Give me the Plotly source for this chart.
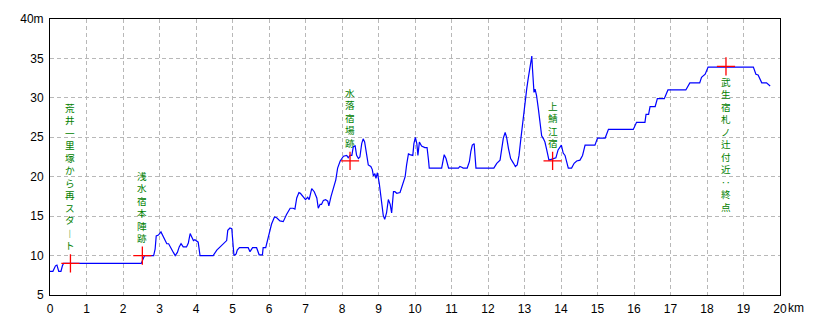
import plotly.graph_objects as go

# Elevation profile (distance in km, elevation in m)
dist_km = [0.00, 0.08, 0.15, 0.19, 0.24, 0.30, 0.34, 0.37, 2.50, 2.55, 2.59, 2.84, 2.88, 2.91, 2.97,
           3.04, 3.10, 3.15, 3.20, 3.25, 3.29, 3.33, 3.38, 3.43, 3.49, 3.54, 3.59, 3.65, 3.74, 3.79,
           3.84, 3.88, 3.93, 3.97, 4.02, 4.06, 4.11, 4.47, 4.57, 4.66, 4.73, 4.79, 4.84, 4.87, 4.93,
           4.98, 5.00, 5.04, 5.10, 5.13, 5.19, 5.43, 5.48, 5.55, 5.66, 5.73, 5.82, 5.84, 5.91, 5.98,
           6.03, 6.07, 6.15, 6.21, 6.30, 6.39, 6.48, 6.58, 6.66, 6.71, 6.76, 6.82, 6.86, 6.94, 7.00,
           7.06, 7.10, 7.17, 7.24, 7.31, 7.35, 7.40, 7.44, 7.49, 7.55, 7.61, 7.64, 7.70, 7.76, 7.83,
           7.88, 7.95, 8.04, 8.13, 8.17, 8.22, 8.27, 8.31, 8.36, 8.40, 8.45, 8.49, 8.54, 8.58, 8.62,
           8.66, 8.72, 8.79, 8.83, 8.86, 8.90, 8.93, 8.97, 9.02, 9.06, 9.10, 9.13, 9.17, 9.22, 9.27,
           9.32, 9.36, 9.41, 9.45, 9.50, 9.59, 9.66, 9.73, 9.77, 9.82, 9.86, 9.94, 9.97, 10.01, 10.05,
           10.08, 10.12, 10.18, 10.27, 10.33, 10.37, 10.39, 10.73, 10.76, 10.80, 10.85, 10.89, 10.92,
           11.19, 11.23, 11.28, 11.32, 11.43, 11.49, 11.53, 11.57, 11.62, 11.64, 11.67, 12.16, 12.24,
           12.33, 12.37, 12.42, 12.47, 12.51, 12.56, 12.62, 12.70, 12.75, 12.80, 12.85, 12.90, 12.93,
           12.97, 13.01, 13.06, 13.10, 13.15, 13.20, 13.22, 13.26, 13.29, 13.33, 13.38, 13.42, 13.47,
           13.52, 13.56, 13.60, 13.65, 13.67, 13.86, 13.92, 14.01, 14.06, 14.11, 14.16, 14.20, 14.29,
           14.36, 14.43, 14.52, 14.59, 14.66, 14.93, 15.00, 15.21, 15.30, 15.98, 16.07, 16.30, 16.33,
           16.40, 16.44, 16.58, 16.64, 16.83, 16.93, 17.42, 17.53, 17.80, 17.85, 17.95, 18.03, 19.27,
           19.34, 19.40, 19.45, 19.50, 19.63, 19.73]
elev_m = [8.0, 8.0, 8.7, 8.8, 8.0, 8.0, 8.7, 9.0, 9.0, 9.6, 10.0, 10.0, 10.8, 12.5, 12.6,
          13.0, 12.5, 11.9, 11.5, 11.5, 11.1, 10.8, 10.4, 10.0, 10.4, 11.1, 11.5, 11.1, 11.1, 11.6,
          12.8, 12.4, 11.9, 12.0, 11.8, 11.7, 10.0, 10.0, 10.7, 11.1, 11.5, 11.8, 11.9, 13.2, 13.5,
          13.4, 11.9, 10.0, 10.2, 10.7, 11.0, 11.0, 10.5, 11.0, 11.0, 10.1, 10.1, 11.0, 11.0, 12.5,
          13.5, 14.0, 14.9, 14.8, 14.4, 14.3, 15.2, 16.0, 16.0, 15.9, 17.3, 18.0, 17.9, 17.4, 17.1,
          17.4, 17.1, 18.5, 18.1, 17.3, 16.0, 16.5, 16.5, 17.0, 17.1, 16.9, 16.3, 17.5, 18.5, 19.6,
          21.1, 22.0, 22.6, 22.7, 22.4, 22.7, 22.7, 23.8, 23.9, 22.7, 22.3, 22.5, 24.2, 24.8, 24.4,
          23.2, 21.5, 21.3, 20.9, 20.1, 20.4, 19.8, 20.5, 19.2, 17.9, 16.5, 15.1, 14.6, 15.4, 17.1,
          16.5, 15.4, 18.1, 18.1, 17.9, 18.0, 19.0, 20.0, 21.5, 22.9, 22.8, 22.7, 24.2, 25.0, 24.2,
          22.7, 24.4, 23.9, 23.7, 23.7, 22.1, 21.1, 21.1, 21.9, 22.8, 22.3, 21.5, 21.1,
          21.1, 21.3, 21.2, 21.1, 21.1, 21.9, 23.2, 24.0, 24.2, 22.7, 21.1, 21.1, 21.7,
          22.1, 23.6, 24.9, 25.6, 25.0, 23.6, 22.3, 21.7, 21.3, 21.5, 22.7, 24.8, 26.1,
          27.8, 29.4, 31.1, 32.4, 34.0, 35.3, 33.6, 30.7, 31.1, 30.3, 28.6, 26.9, 25.2,
          24.8, 24.4, 23.6, 22.7, 22.1, 22.4, 23.4, 24.0, 23.0, 22.7, 21.9, 21.1, 21.1,
          21.7, 22.0, 22.1, 22.7, 24.0, 24.0, 24.9, 24.9, 26.0, 26.0, 26.9, 26.9, 27.9,
          27.9, 28.9, 28.9, 29.9, 29.9, 31.0, 31.0, 31.9, 31.9, 32.6, 33.0, 33.9, 33.9,
          33.0, 32.9, 32.4, 31.9, 31.9, 31.5]

# Landmarks
marker_km = [0.56, 2.53, 8.22, 13.77, 18.52]
marker_m = [9.0, 10.0, 22.0, 22.0, 34.0]
marker_labels = ["荒井一里塚から再スタ︱ト", "浅水宿本陣跡", "水落宿場跡", "上鯖江宿", "武生宿札ノ辻付近‥終点"]
label_side = ["above", "above", "above", "above", "below"]

x_ticks = list(range(0, 21))
x_ticktext = [str(v) for v in x_ticks]
y_ticks = [5, 10, 15, 20, 25, 30, 35, 40]
y_ticktext = ["5", "10", "15", "20", "25", "30", "35", "40m"]

fig = go.Figure()
fig.add_trace(go.Scatter(x=dist_km, y=elev_m, mode="lines",
                         line=dict(color="#0000ff", width=1.2), hoverinfo="skip"))
fig.add_trace(go.Scatter(x=marker_km, y=marker_m, mode="markers",
                         marker=dict(symbol="cross-thin", size=13,
                                     line=dict(color="#ff0000", width=1.3)),
                         hoverinfo="skip"))

label_font = dict(family="Noto Sans CJK JP", size=9.6, color="#008000")
annotations = []
for mx, my, lab, side in zip(marker_km, marker_m, marker_labels, label_side):
    vertical = "<br>".join(list(lab))
    if side == "above":
        annotations.append(dict(x=mx, y=my, xref="x", yref="y", text=vertical, showarrow=False,
                                xanchor="center", yanchor="bottom", yshift=10, align="center",
                                borderpad=0, font=label_font))
    else:
        annotations.append(dict(x=mx, y=my, xref="x", yref="y", text=vertical, showarrow=False,
                                xanchor="center", yanchor="top", yshift=-8, align="center",
                                borderpad=0, font=label_font))

annotations.append(dict(x=20, y=5, xref="x", yref="y", text="km", showarrow=False,
                        xanchor="left", yanchor="top", xshift=6, yshift=-4,
                        font=dict(family="Liberation Sans Narrow, Liberation Sans", size=12, color="#000000")))

fig.update_layout(
    width=820, height=328,
    margin=dict(l=50, r=40, t=19, b=30),
    paper_bgcolor="white", plot_bgcolor="white",
    showlegend=False,
    annotations=annotations,
    font=dict(family="Liberation Sans Narrow, Liberation Sans", size=12, color="#000000"),
)
fig.update_xaxes(range=[0, 20], tickvals=x_ticks, ticktext=x_ticktext,
                 showgrid=True, gridcolor="#b8b8b8", griddash="4px,3px", gridwidth=1,
                 showline=True, mirror=True, linecolor="#000000", linewidth=1,
                 zeroline=False, ticks="outside", ticklen=3, tickcolor="rgba(0,0,0,0)",
                 tickfont=dict(size=12))
fig.update_yaxes(range=[5, 40], tickvals=y_ticks, ticktext=y_ticktext,
                 showgrid=True, gridcolor="#b8b8b8", griddash="4px,3px", gridwidth=1,
                 showline=True, mirror=True, linecolor="#000000", linewidth=1,
                 zeroline=False, ticks="outside", ticklen=3, tickcolor="rgba(0,0,0,0)",
                 tickfont=dict(size=12))

fig.write_html("out.html")
